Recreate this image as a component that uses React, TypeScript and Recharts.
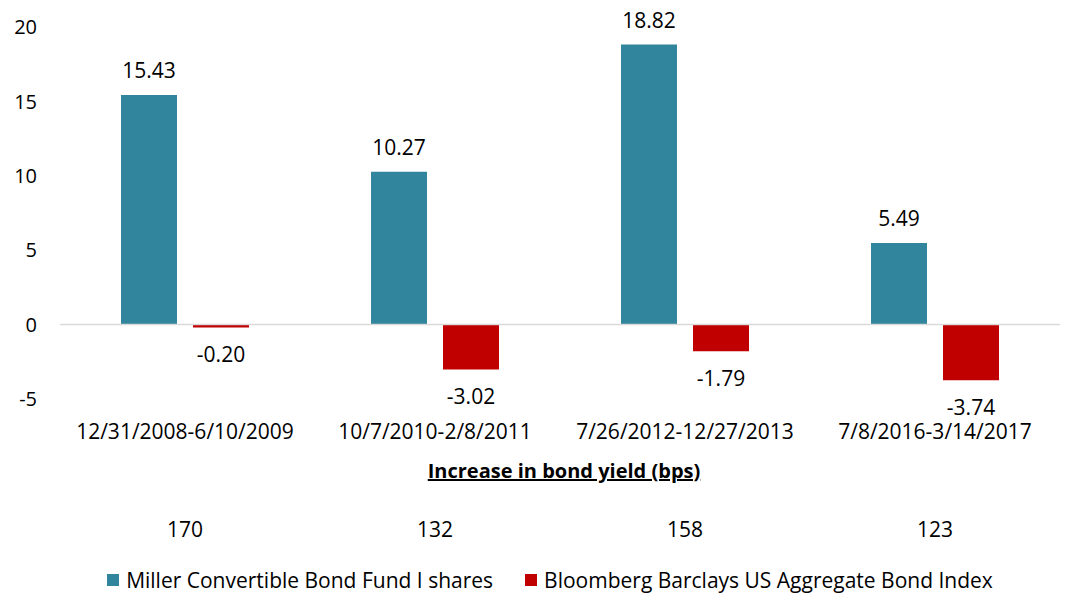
import React from "react";
import { BarChart, Bar, XAxis, YAxis, ReferenceLine, LabelList, Legend, Label } from "recharts";

const categories = ["12/31/2008-6/10/2009", "10/7/2010-2/8/2011", "7/26/2012-12/27/2013", "7/8/2016-3/14/2017"];
const millerValues = [15.43, 10.27, 18.82, 5.49];
const bloombergValues = [-0.2, -3.02, -1.79, -3.74];
const bpsValues = [170, 132, 158, 123];
const yTicks = [-5, 0, 5, 10, 15, 20];

const seriesNames = ["Miller Convertible Bond Fund I shares", "Bloomberg Barclays US Aggregate Bond Index"];
const colors = ["#31859C", "#C00000"];

const data = categories.map((c, i) => ({
  category: c,
  miller: millerValues[i],
  bloomberg: bloombergValues[i],
  bps: bpsValues[i],
}));

const FONT = "'Open Sans', sans-serif";

const CategoryTick = (props: any) => {
  const { x, y, payload, index } = props;
  const idx = payload && typeof payload.index === "number" ? payload.index : index;
  return (
    <g>
      <text x={x} y={y + 32} textAnchor="middle" fontFamily={FONT} fontSize={21} fill="#000">
        {payload.value}
      </text>
      <text x={x} y={y + 130} textAnchor="middle" fontFamily={FONT} fontSize={21} fill="#000">
        {bpsValues[idx]}
      </text>
    </g>
  );
};

const TitleLabel = (props: any) => {
  const { viewBox } = props;
  const cx = viewBox.x + viewBox.width / 2;
  return (
    <text
      x={cx + 4}
      y={viewBox.y + 79}
      textAnchor="middle"
      fontFamily={FONT}
      fontSize={20}
      fontWeight="bold"
      fill="#000"
      style={{ textDecoration: "underline" }}
    >
      Increase in bond yield (bps)
    </text>
  );
};

const LegendContent = (props: any) => {
  const payload = [...(props.payload || [])].sort(
    (a: any, b: any) => seriesNames.indexOf(a.value) - seriesNames.indexOf(b.value)
  );
  return (
    <div style={{ display: "flex", justifyContent: "center", alignItems: "center", fontFamily: FONT, fontSize: 21, color: "#000", paddingLeft: 30 }}>
      {payload.map((p: any, i: number) => (
        <div key={i} style={{ display: "flex", alignItems: "center", marginLeft: i === 0 ? 0 : 32 }}>
          <span style={{ display: "inline-block", width: 12, height: 12, background: p.color, marginRight: 7 }} />
          <span>{p.value}</span>
        </div>
      ))}
    </div>
  );
};

export default function App() {
  return (
    <div style={{ position: "absolute", left: 0, top: 0, width: 1070, height: 597, background: "#fff" }}>
      <BarChart
        width={1070}
        height={597}
        data={data}
        margin={{ top: 27, right: 10, left: 0, bottom: 38 }}
        barSize={56}
        barGap={16}
      >
        <YAxis
          width={60}
          domain={[-5, 20]}
          ticks={yTicks}
          axisLine={false}
          tickLine={false}
          tickMargin={17}
          tick={{ fontFamily: FONT, fontSize: 20, fill: "#000" }}
        />
        <XAxis
          dataKey="category"
          axisLine={false}
          tickLine={false}
          height={160}
          interval={0}
          tick={<CategoryTick />}
        >
          <Label content={<TitleLabel />} />
        </XAxis>
        <ReferenceLine y={0} stroke="#D9D9D9" strokeWidth={1.5} />
        <Bar dataKey="miller" name={seriesNames[0]} fill={colors[0]} isAnimationActive={false}>
          <LabelList
            dataKey="miller"
            position="top"
            offset={17}
            formatter={(v: any) => Number(v).toFixed(2)}
            style={{ fontFamily: FONT, fontSize: 21, fill: "#000" }}
          />
        </Bar>
        <Bar dataKey="bloomberg" name={seriesNames[1]} fill={colors[1]} isAnimationActive={false}>
          <LabelList
            dataKey="bloomberg"
            position="top"
            offset={20}
            formatter={(v: any) => Number(v).toFixed(2)}
            style={{ fontFamily: FONT, fontSize: 21, fill: "#000" }}
          />
        </Bar>
        <Legend
          verticalAlign="middle"
          align="center"
          layout="horizontal"
          content={<LegendContent />}
          wrapperStyle={{ top: 566, left: 0, width: 1070 }}
        />
      </BarChart>
    </div>
  );
}
